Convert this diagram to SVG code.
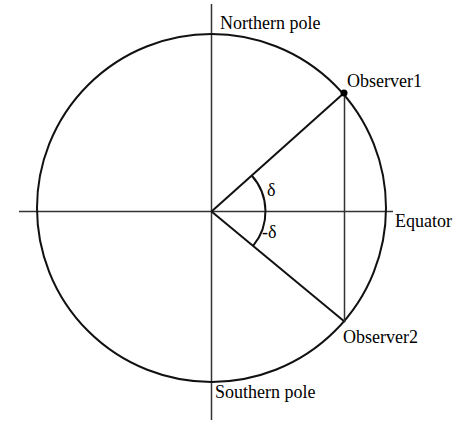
<svg xmlns="http://www.w3.org/2000/svg" width="456" height="422" viewBox="0 0 456 422">
<style>
.axis{stroke:#333;stroke-width:1.5;fill:none}
.ln{stroke:#111;stroke-width:2;fill:none}
.t{font-family:"Liberation Serif","Times New Roman",serif;font-size:18px;fill:#000}
</style>
<rect width="456" height="422" fill="#fff"/>
<g id="connectors">
<line class="axis" x1="19" y1="211.5" x2="393" y2="211.5"/>
<line class="axis" x1="211.5" y1="4" x2="211.5" y2="420"/>
<ellipse class="ln" cx="211.5" cy="208" rx="174.5" ry="174"/>
<line class="ln" x1="211.5" y1="211.5" x2="344" y2="93"/>
<line class="ln" x1="211.5" y1="211.5" x2="345" y2="322"/>
<line class="axis" x1="344.5" y1="93" x2="344.5" y2="322"/>
<path class="ln" d="M251.7 175.5 A54 54 0 0 1 253.1 245.9"/>
</g>
<g id="observer1">
<circle cx="344" cy="93" r="3.5" fill="#000"/>
<text class="t" x="347" y="87">Observer1</text>
</g>
<g id="observer2">
<text class="t" x="343" y="343">Observer2</text>
</g>
<g id="north"><text class="t" x="220" y="29">Northern pole</text></g>
<g id="south"><text class="t" x="215" y="398">Southern pole</text></g>
<g id="equator"><text class="t" x="395" y="227">Equator</text></g>
<g id="angles">
<text class="t" x="267" y="196">δ</text>
<text class="t" x="262" y="238">-δ</text>
</g>
</svg>
